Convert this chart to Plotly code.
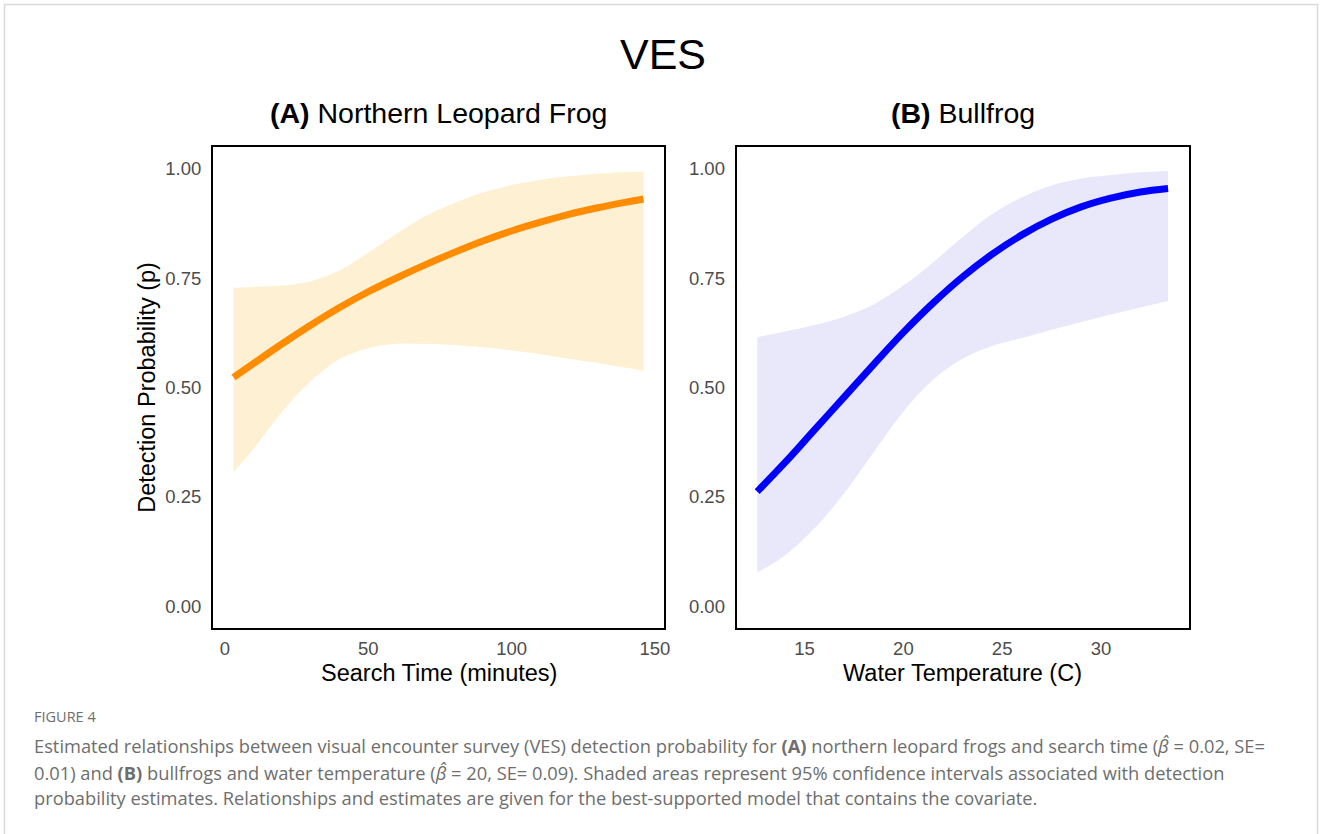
import plotly.graph_objects as go

# ---------------- data ----------------
search_time = [3, 10, 20, 30, 40, 50, 60, 70, 80, 90, 100, 110, 120, 130, 140, 146]
nlf_p = [0.523, 0.555, 0.600, 0.643, 0.683, 0.719, 0.751, 0.781, 0.809, 0.835, 0.858, 0.878, 0.896, 0.911, 0.924, 0.931]
nlf_upper = [0.728, 0.730, 0.733, 0.743, 0.768, 0.808, 0.852, 0.892, 0.922, 0.946, 0.963, 0.975, 0.983, 0.989, 0.993, 0.994]
nlf_lower = [0.307, 0.360, 0.445, 0.515, 0.565, 0.590, 0.600, 0.600, 0.597, 0.592, 0.585, 0.576, 0.566, 0.556, 0.545, 0.538]

water_temp = [12.6, 14, 15.5, 17, 18.5, 20, 21.5, 23, 24.5, 26, 27.5, 29, 30.5, 32, 33.4]
bf_p = [0.262, 0.328, 0.403, 0.478, 0.553, 0.626, 0.693, 0.753, 0.805, 0.849, 0.885, 0.913, 0.933, 0.947, 0.955]
bf_upper = [0.615, 0.628, 0.643, 0.662, 0.690, 0.733, 0.786, 0.844, 0.897, 0.935, 0.962, 0.978, 0.986, 0.992, 0.995]
bf_lower = [0.077, 0.116, 0.178, 0.258, 0.352, 0.445, 0.518, 0.566, 0.595, 0.613, 0.632, 0.650, 0.667, 0.683, 0.698]

y_ticks = [0, 0.25, 0.5, 0.75, 1.0]
y_ticklabels = ["0.00", "0.25", "0.50", "0.75", "1.00"]
xa_ticks = [0, 50, 100, 150]
xb_ticks = [15, 20, 25, 30]

# ---------------- layout geometry ----------------
W, H = 1328, 834
def px(x):
    return x / W
def py(y):
    return 1 - y / H

CHART_FONT = "Liberation Sans, Arial, sans-serif"
CAP_FONT = "Open Sans, Lato, sans-serif"

fig = go.Figure()

# Panel A
fig.add_trace(go.Scatter(x=search_time, y=nlf_lower, mode="lines", line=dict(width=0, shape="spline"),
                         showlegend=False, hoverinfo="skip", xaxis="x", yaxis="y"))
fig.add_trace(go.Scatter(x=search_time, y=nlf_upper, mode="lines", line=dict(width=0, shape="spline"),
                         fill="tonexty", fillcolor="#FEF0D3", showlegend=False, hoverinfo="skip",
                         xaxis="x", yaxis="y"))
fig.add_trace(go.Scatter(x=search_time, y=nlf_p, mode="lines", line=dict(color="#FF8C00", width=7, shape="spline"),
                         showlegend=False, xaxis="x", yaxis="y"))

# Panel B
fig.add_trace(go.Scatter(x=water_temp, y=bf_lower, mode="lines", line=dict(width=0, shape="spline"),
                         showlegend=False, hoverinfo="skip", xaxis="x2", yaxis="y2"))
fig.add_trace(go.Scatter(x=water_temp, y=bf_upper, mode="lines", line=dict(width=0, shape="spline"),
                         fill="tonexty", fillcolor="#E8E8FA", showlegend=False, hoverinfo="skip",
                         xaxis="x2", yaxis="y2"))
fig.add_trace(go.Scatter(x=water_temp, y=bf_p, mode="lines", line=dict(color="#0000FF", width=7, shape="spline"),
                         showlegend=False, xaxis="x2", yaxis="y2"))

tickfont = dict(family=CHART_FONT, size=18.5, color="#4D4D4D")
ydom = [py(628), py(147)]
common_axis = dict(showline=True, linecolor="black", linewidth=2, mirror=True, showgrid=False,
                   zeroline=False, ticks="", tickfont=tickfont)

fig.update_layout(
    width=W, height=H,
    margin=dict(l=0, r=0, t=0, b=0),
    paper_bgcolor="white", plot_bgcolor="white",
    showlegend=False,
    xaxis=dict(domain=[px(214), px(667)], range=[-4.15, 153.15], tickvals=xa_ticks,
               anchor="y", ticklabelstandoff=3, **common_axis),
    yaxis=dict(domain=ydom, range=[-0.05, 1.05], tickvals=y_ticks, ticktext=y_ticklabels,
               anchor="x", ticklabelstandoff=6, **common_axis),
    xaxis2=dict(domain=[px(740), px(1194)], range=[11.56, 34.44], tickvals=xb_ticks,
                anchor="y2", ticklabelstandoff=3, **common_axis),
    yaxis2=dict(domain=ydom, range=[-0.05, 1.05], tickvals=y_ticks, ticktext=y_ticklabels,
                anchor="x2", ticklabelstandoff=6, **common_axis),
)

annotations = [
    dict(text="VES", x=px(666), y=py(54), font=dict(family=CHART_FONT, size=43, color="black")),
    dict(text="<b>(A)</b> Northern Leopard Frog", x=px(440.5), y=py(113),
         font=dict(family=CHART_FONT, size=28.5, color="black")),
    dict(text="<b>(B)</b> Bullfrog", x=px(967), y=py(113),
         font=dict(family=CHART_FONT, size=28.5, color="black")),
    dict(text="Search Time (minutes)", x=px(440.5), y=py(673),
         font=dict(family=CHART_FONT, size=23.5, color="black")),
    dict(text="Water Temperature (C)", x=px(967), y=py(673),
         font=dict(family=CHART_FONT, size=23.5, color="black")),
    dict(text="Detection Probability (p)", x=px(147), y=py(387.5), textangle=-90,
         font=dict(family=CHART_FONT, size=23.5, color="black")),
]
for a in annotations:
    a.update(xref="paper", yref="paper", showarrow=False, xanchor="center", yanchor="middle")

cap_color = "#6E6E6E"
caption = [
    ("FIGURE 4", 716, 14.5),
    ("Estimated relationships between visual encounter survey (VES) detection probability for <b>(A)</b> northern leopard frogs and search time (<i>\u03b2\u0302</i> = 0.02, SE=", 745, 18.3),
    ("0.01) and <b>(B)</b> bullfrogs and water temperature (<i>\u03b2\u0302</i> = 20, SE= 0.09). Shaded areas represent 95% confidence intervals associated with detection", 772, 18.3),
    ("probability estimates. Relationships and estimates are given for the best-supported model that contains the covariate.", 797, 18.3),
]
for text, yy, size in caption:
    annotations.append(dict(text=text, x=px(32), y=py(yy), xref="paper", yref="paper", showarrow=False,
                            xanchor="left", yanchor="middle",
                            font=dict(family=CAP_FONT, size=size, color=cap_color)))

fig.update_layout(annotations=annotations)

# light outer frame of the figure card
fig.add_shape(type="rect", xref="paper", yref="paper", x0=px(4.5), x1=px(1323.5), y0=-0.05, y1=py(4.5),
              line=dict(color="#D9D9D9", width=1.5), fillcolor="rgba(0,0,0,0)", layer="below")

fig.write_html("out.html", config={"displayModeBar": False},
               post_script="document.body.style.margin='0px';document.body.style.overflow='hidden';")
